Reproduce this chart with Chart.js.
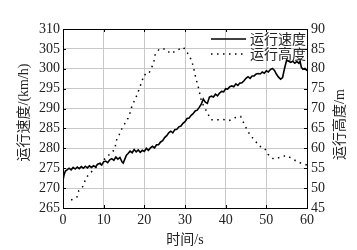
<!DOCTYPE html>
<html>
<head>
<meta charset="utf-8">
<script src="https://cdn.jsdelivr.net/npm/chart.js@4/dist/chart.umd.min.js"></script>
<style>
  html, body { margin: 0; padding: 0; background: #fff; }
  #wrap { width: 357px; height: 250px; }
</style>
</head>
<body>
<div id="wrap"><canvas id="c" width="357" height="250"></canvas></div>
<script>
// time (s) and running speed (km/h)
const speedTime = [0, 0.3, 0.6, 1, 1.5, 2, 2.5, 3, 3.5, 4, 4.5, 5, 5.5, 6, 6.5, 7, 7.5, 8, 8.5, 9, 9.5,
  10, 10.5, 11, 11.5, 12, 12.5, 13, 13.5, 14, 14.5, 14.8, 15.2, 15.6, 16, 16.5, 17, 17.5, 18, 18.5, 19, 19.5,
  20, 20.5, 21, 21.5, 22, 22.5, 23, 23.5, 24, 24.5, 25, 25.5, 26, 26.5, 27, 27.5, 28, 28.5, 29, 29.5,
  30, 30.5, 31, 31.5, 32, 32.5, 33, 33.5, 34, 34.5, 35, 35.5, 36, 36.5, 37, 37.5, 38, 38.5, 39, 39.5,
  40, 40.5, 41, 41.5, 42, 42.5, 43, 43.5, 44, 44.5, 45, 45.5, 46, 46.5, 47, 47.5, 48, 48.5, 49, 49.5,
  50, 50.5, 51, 51.5, 52, 52.5, 53, 53.5, 54, 54.3, 54.7, 55, 55.5, 56, 56.5, 57, 57.5, 58, 58.3, 58.6, 59, 59.5, 60];
const speed = [272.0, 273.5, 274.3, 274.6, 275.0, 274.6, 275.2, 274.8, 275.3, 274.9, 275.4, 275.0, 275.5, 275.1, 275.6, 275.2, 275.6, 275.3, 276.0, 276.2, 275.8,
  276.6, 276.8, 276.4, 277.1, 277.4, 277.0, 277.8, 277.3, 277.7, 276.6, 276.3, 277.3, 278.3, 278.7, 279.3, 278.9, 279.7, 279.1, 279.6, 279.0, 279.5,
  279.2, 280.0, 279.5, 280.1, 280.5, 280.1, 280.9, 280.9, 281.6, 281.9, 282.7, 283.2, 283.9, 284.3, 283.9, 284.7, 284.8, 285.4, 285.6, 286.3,
  286.7, 287.5, 287.6, 288.3, 288.7, 289.4, 289.6, 290.3, 291.1, 292.4, 291.6, 291.3, 292.9, 293.1, 292.9, 293.6, 293.2, 293.9, 294.3, 294.2,
  295.0, 294.9, 295.5, 295.7, 295.5, 296.2, 295.8, 296.4, 296.5, 297.0, 297.6, 298.0, 297.6, 298.2, 298.2, 298.7, 298.8, 298.7, 299.2, 298.9,
  299.5, 299.2, 299.8, 300.1, 299.6, 298.6, 297.9, 297.4, 297.8, 299.3, 301.0, 302.2, 301.9, 301.6, 301.9, 301.4, 301.8, 301.4, 301.9, 300.4, 299.9, 300.1, 299.5];

// time (s) and running altitude (m)
const heightTime = [2.0, 3.4, 3.9, 5.0, 5.6, 6.6, 12.8, 13.0, 13.8, 14.4, 15.2, 16.0, 16.5, 17.0, 17.7, 18.3, 18.9, 19.5, 19.9,
  21.0, 21.8, 22.4, 22.6, 23.7, 25.1, 26.5, 27.9, 29.6, 30.6, 31.4, 32.0, 32.7, 33.2, 34.1, 34.6, 35.4, 36.4, 38.5,
  39.0, 40.9, 42.3, 43.7, 44.5, 45.3, 46.1, 47.2, 48.2, 49.6, 50.4, 51.8, 53.3, 54.9, 56.4, 57.8, 58.9, 60];
const height = [47.0, 47.7, 49.4, 50.5, 52.5, 53.7, 59.8, 61.7, 63.4, 64.8, 66.2, 67.6, 69.0, 70.8, 72.2, 73.7, 75.4, 77.1, 78.5,
  78.6, 80.3, 82.0, 83.4, 85.0, 85.0, 83.8, 84.6, 85.4, 84.0, 82.5, 80.8, 77.5, 75.7, 71.6, 70.7, 69.1, 67.2, 67.2,
  67.3, 67.0, 67.7, 68.0, 66.2, 64.6, 63.2, 62.0, 60.6, 60.0, 58.5, 57.3, 57.7, 58.2, 57.4, 56.5, 56.2, 55.8];

const xTicks = [0, 10, 20, 30, 40, 50, 60];
const speedRange = [265, 310];
const heightRange = [45, 90];
const seriesNames = ['运行速度', '运行高度'];
const xTitle = '时间/s';
const yTitle = '运行速度/(km/h)';
const y2Title = '运行高度/m';

const FONT = '"Liberation Serif", "Noto Sans CJK SC", serif';

const frame = {
  id: 'frame',
  afterDraw(chart) {
    const { ctx, chartArea: a, scales } = chart;
    ctx.save();
    // inward ticks
    ctx.strokeStyle = '#000';
    ctx.lineWidth = 1;
    ctx.beginPath();
    xTicks.forEach(v => {
      const px = Math.round(scales.x.getPixelForValue(v)) + 0.5;
      ctx.moveTo(px, a.bottom); ctx.lineTo(px, a.bottom - 3);
      ctx.moveTo(px, a.top); ctx.lineTo(px, a.top + 3);
    });
    scales.y.ticks.forEach(t => {
      const py = Math.round(scales.y.getPixelForValue(t.value)) + 0.5;
      ctx.moveTo(a.left, py); ctx.lineTo(a.left + 3, py);
    });
    scales.y2.ticks.forEach(t => {
      const py = Math.round(scales.y2.getPixelForValue(t.value)) + 0.5;
      ctx.moveTo(a.right, py); ctx.lineTo(a.right - 3, py);
    });
    ctx.stroke();
    ctx.strokeRect(Math.round(a.left) + 0.5, Math.round(a.top) + 0.5,
      Math.round(a.right - a.left), Math.round(a.bottom - a.top));

    // axis titles
    ctx.fillStyle = '#222';
    ctx.font = '14px ' + FONT;
    ctx.textAlign = 'center';
    ctx.textBaseline = 'middle';
    ctx.fillText(xTitle, (a.left + a.right) / 2, a.bottom + 32);
    ctx.save();
    ctx.translate(24, (a.top + a.bottom) / 2 - 6);
    ctx.rotate(-Math.PI / 2);
    ctx.fillText(yTitle, 0, 0);
    ctx.restore();
    ctx.save();
    ctx.translate(a.right + 33, (a.top + a.bottom) / 2 + 6);
    ctx.rotate(-Math.PI / 2);
    ctx.fillText(y2Title, 0, 0);
    ctx.restore();

    // legend (top right, inside plot)
    const x0 = a.right - 96, x1 = a.right - 61;
    const rows = [a.top + 10, a.top + 25];
    ctx.textAlign = 'left';
    chart.data.datasets.forEach((ds, i) => {
      const yy = rows[i];
      ctx.beginPath();
      ctx.strokeStyle = '#000';
      ctx.lineWidth = ds.borderWidth;
      ctx.setLineDash(ds.borderDash || []);
      ctx.moveTo(x0, yy); ctx.lineTo(x1, yy);
      ctx.stroke();
      ctx.setLineDash([]);
      ctx.fillStyle = '#222';
      ctx.font = '14px ' + FONT;
      ctx.fillText(ds.label, x1 + 4, yy + 1);
    });
    ctx.restore();
  }
};

new Chart(document.getElementById('c'), {
  type: 'line',
  data: {
    datasets: [
      {
        label: seriesNames[0],
        data: speedTime.map((t, i) => ({ x: t, y: speed[i] })),
        yAxisID: 'y',
        borderColor: '#000',
        borderWidth: 1.6,
        pointRadius: 0,
        tension: 0
      },
      {
        label: seriesNames[1],
        data: heightTime.map((t, i) => ({ x: t, y: height[i] })),
        yAxisID: 'y2',
        borderColor: '#000',
        borderWidth: 1.5,
        borderDash: [1.5, 4.5],
        pointRadius: 0,
        tension: 0
      }
    ]
  },
  options: {
    responsive: false,
    animation: false,
    layout: { padding: { top: 29, left: 0, right: 0, bottom: 0 } },
    plugins: { legend: { display: false }, tooltip: { enabled: false } },
    scales: {
      x: {
        type: 'linear', min: 0, max: 60,
        afterBuildTicks: s => { s.ticks = xTicks.map(v => ({ value: v })); },
        afterFit: s => { s.height = 42; },
        grid: { color: '#c8c8c8', drawTicks: false },
        border: { color: '#000' },
        ticks: { color: '#222', font: { family: FONT, size: 14 }, padding: 4, maxRotation: 0 }
      },
      y: {
        position: 'left', min: speedRange[0], max: speedRange[1],
        afterFit: s => { s.width = 63; },
        grid: { color: '#c8c8c8', drawTicks: false },
        border: { color: '#000' },
        ticks: { stepSize: 5, color: '#222', font: { family: FONT, size: 14 }, padding: 3 }
      },
      y2: {
        position: 'right', min: heightRange[0], max: heightRange[1],
        afterFit: s => { s.width = 50; },
        grid: { display: false, drawTicks: false },
        border: { color: '#000' },
        ticks: { stepSize: 5, color: '#222', font: { family: FONT, size: 14 }, padding: 4 }
      }
    }
  },
  plugins: [frame]
});
</script>
</body>
</html>
